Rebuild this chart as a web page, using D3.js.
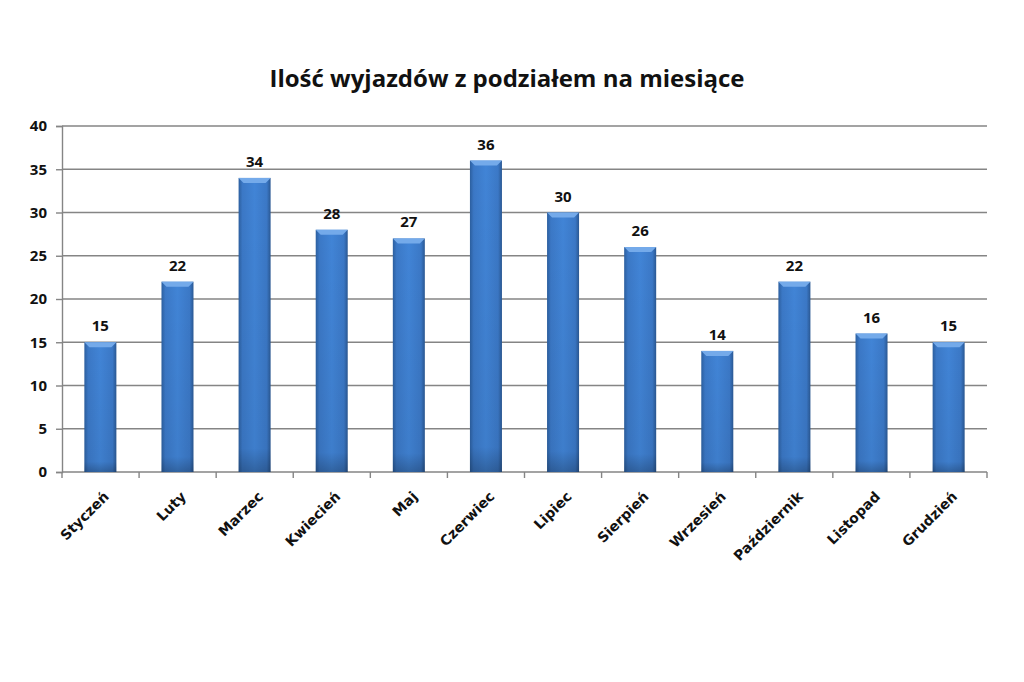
<!DOCTYPE html>
<html>
<head>
<meta charset="utf-8">
<script src="https://cdn.jsdelivr.net/npm/d3@7"></script>
<style>
  body { margin: 0; background: #fff; }
  text { font-family: "Open Sans", "DejaVu Sans", sans-serif; }
</style>
</head>
<body>
<div id="chart"></div>
<script>
const months = ["Styczeń", "Luty", "Marzec", "Kwiecień", "Maj", "Czerwiec",
  "Lipiec", "Sierpień", "Wrzesień", "Październik", "Listopad", "Grudzień"];
const trips = [15, 22, 34, 28, 27, 36, 30, 26, 14, 22, 16, 15];
const yTicks = [0, 5, 10, 15, 20, 25, 30, 35, 40];
const title = "Ilość wyjazdów z podziałem na miesiące";

const W = 1024, H = 682;
const margin = { top: 126, right: 37, bottom: 210, left: 62 };
const width = W - margin.left - margin.right;
const height = H - margin.top - margin.bottom;

const root = d3.select("#chart").append("svg")
  .attr("width", W).attr("height", H);

// gradient for bars
const defs = root.append("defs");
const grad = defs.append("linearGradient").attr("id", "barGrad")
  .attr("x1", "0%").attr("x2", "100%").attr("y1", "0%").attr("y2", "0%");
grad.append("stop").attr("offset", "0%").attr("stop-color", "#2c5f9f");
grad.append("stop").attr("offset", "12%").attr("stop-color", "#3b78c6");
grad.append("stop").attr("offset", "50%").attr("stop-color", "#4184d6");
grad.append("stop").attr("offset", "88%").attr("stop-color", "#3b78c6");
grad.append("stop").attr("offset", "100%").attr("stop-color", "#2a5893");
const shade = defs.append("linearGradient").attr("id", "barShade")
  .attr("x1", "0%").attr("x2", "0%").attr("y1", "0%").attr("y2", "100%");
shade.append("stop").attr("offset", "0%").attr("stop-color", "#000").attr("stop-opacity", 0);
shade.append("stop").attr("offset", "92%").attr("stop-color", "#000").attr("stop-opacity", 0.05);
shade.append("stop").attr("offset", "100%").attr("stop-color", "#000").attr("stop-opacity", 0.25);

root.append("text")
  .attr("x", 507).attr("y", 87)
  .attr("text-anchor", "middle")
  .style("font-size", "24px").style("font-weight", "bold")
  .attr("fill", "#111")
  .text(title);

const svg = root.append("g")
  .attr("transform", `translate(${margin.left},${margin.top})`);

const x = d3.scaleBand().domain(months).range([0, width])
  .paddingInner(0.585).paddingOuter(0.29);
const y = d3.scaleLinear().domain([0, 40]).range([height, 0]);

// gridlines
svg.selectAll(".grid").data(yTicks.filter(d => d > 0)).enter()
  .append("line")
  .attr("x1", 0).attr("x2", width)
  .attr("y1", d => y(d)).attr("y2", d => y(d))
  .attr("stroke", "#858585").attr("stroke-width", 1.4);

// y axis
const yAxis = svg.append("g")
  .call(d3.axisLeft(y).tickValues(yTicks).tickSize(6).tickPadding(9));
yAxis.select(".domain").attr("stroke", "#858585").attr("stroke-width", 1.4);
yAxis.selectAll(".tick line").attr("stroke", "#858585").attr("stroke-width", 1.4);
yAxis.selectAll("text")
  .style("font-size", "15px").style("font-weight", "bold").attr("fill", "#111");

// x axis with ticks between categories
const xAxis = svg.append("g").attr("transform", `translate(0,${height})`);
xAxis.append("line").attr("x1", 0).attr("x2", width)
  .attr("stroke", "#858585").attr("stroke-width", 1.4);
xAxis.selectAll(".xt").data(d3.range(months.length + 1)).enter()
  .append("line")
  .attr("x1", i => i * width / months.length)
  .attr("x2", i => i * width / months.length)
  .attr("y1", 0).attr("y2", 6)
  .attr("stroke", "#858585").attr("stroke-width", 1.4);
xAxis.selectAll(".xl").data(months).enter()
  .append("text")
  .attr("transform", d => `translate(${x(d) + x.bandwidth() / 2 + 6},${22}) rotate(-45)`)
  .attr("text-anchor", "end")
  .attr("dy", "0.35em")
  .style("font-family", "'DejaVu Sans', sans-serif")
  .style("font-size", "14px").style("font-weight", "bold").attr("fill", "#111")
  .text(d => d);

// bars
const bars = svg.selectAll(".bar").data(months).enter().append("g");
bars.append("rect")
  .attr("x", d => x(d)).attr("width", x.bandwidth())
  .attr("y", (d, i) => y(trips[i])).attr("height", (d, i) => height - y(trips[i]))
  .attr("fill", "url(#barGrad)");
bars.append("rect")
  .attr("x", d => x(d)).attr("width", x.bandwidth())
  .attr("y", (d, i) => y(trips[i])).attr("height", (d, i) => height - y(trips[i]))
  .attr("fill", "url(#barShade)");
// bevelled top
bars.append("path")
  .attr("d", (d, i) => {
    const x0 = x(d), x1 = x(d) + x.bandwidth(), t = y(trips[i]);
    return `M${x0},${t} L${x1},${t} L${x1 - 5},${t + 5} L${x0 + 5},${t + 5} Z`;
  })
  .attr("fill", "#74aaea");

// value labels
bars.append("text")
  .attr("x", d => x(d) + x.bandwidth() / 2)
  .attr("y", (d, i) => y(trips[i]) - 11)
  .attr("text-anchor", "middle")
  .style("font-size", "15px").style("font-weight", "bold").attr("fill", "#111")
  .text((d, i) => trips[i]);
</script>
</body>
</html>
